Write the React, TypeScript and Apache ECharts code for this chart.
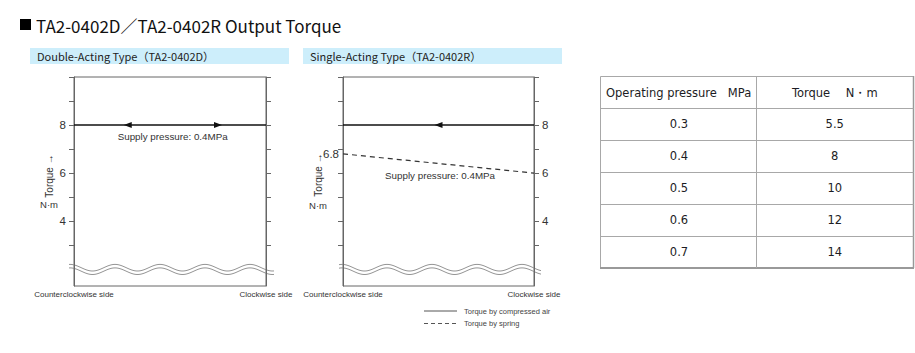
import React, { useEffect, useRef } from "react";
import * as echarts from "echarts";

// ---- data ----
const sideLabels = ["Counterclockwise side", "Clockwise side"];
const doubleAirLine = [
  [0, 8],
  [1, 8],
];
const singleAirLine = [
  [0, 8],
  [1, 8],
];
const singleSpringLine = [
  [0, 6.8],
  [1, 6],
];
const yTicks = [3, 4, 5, 6, 7, 8, 9, 10];
const yLabels = [4, 6, 8];
const springStartLabel = [6.8];
const supplyText = "Supply pressure: 0.4MPa";
const tablePressures = ["0.3", "0.4", "0.5", "0.6", "0.7"];
const tableTorques = ["5.5", "8", "10", "12", "14"];
const tableHeaders = ["Operating pressure   MPa", "Torque\u3000 N\u30FBm"];

const AXIS = "#666";
const LBL = "#333";
const SANS = "'Liberation Sans', Arial, sans-serif";

function wave(x0: number, x1: number, yc: number, crest: number, period: number, amp: number) {
  const pts: number[][] = [];
  for (let x = x0; x <= x1; x += 1) {
    pts.push([x, yc - amp * Math.cos((2 * Math.PI * (x - crest)) / period)]);
  }
  return pts;
}

function buildOption() {
  const yAxisBase = (gridIndex: number, position: "left" | "right", labels: number[] | null) => ({
    type: "value",
    gridIndex,
    position,
    min: 1.3,
    max: 10,
    axisLine: { show: true, lineStyle: { color: AXIS, width: 1 } },
    axisTick: { show: true, length: 5, inside: false, customValues: yTicks, lineStyle: { color: AXIS } },
    axisLabel: labels
      ? { show: true, customValues: labels, margin: 8, color: LBL, fontSize: 11.5, fontFamily: SANS }
      : { show: false },
    splitLine: { show: false },
  });
  const xAxisBase = (gridIndex: number) => ({
    type: "value",
    gridIndex,
    min: 0,
    max: 1,
    axisLine: { show: false },
    axisTick: { show: false },
    splitLine: { show: false },
    axisLabel: {
      show: true,
      customValues: [0, 1],
      formatter: (v: number) => (v === 0 ? sideLabels[0] : sideLabels[1]),
      margin: 4,
      color: LBL,
      fontSize: 8,
      fontFamily: SANS,
    },
  });

  const arrow = (x: number, y: number, rot: number) => ({
    coord: [x, y],
    symbol: "triangle",
    symbolSize: [6, 8],
    symbolRotate: rot,
    itemStyle: { color: "#111" },
    label: { show: false },
  });
  const textMark = (x: number, y: number) => ({
    coord: [x, y],
    symbol: "circle",
    symbolSize: 0,
    label: {
      show: true,
      position: "inside",
      formatter: supplyText,
      color: "#333",
      fontSize: 9.8,
      fontFamily: SANS,
    },
  });

  const graphic: any[] = [];
  // title
  graphic.push({ type: "rect", shape: { x: 20, y: 19, width: 11, height: 11 }, style: { fill: "#000" } });
  graphic.push({
    type: "text",
    x: 36,
    y: 25,
    style: {
      text: "TA2-0402D\uFF0FTA2-0402R Output Torque",
      font: "17px 'Noto Sans CJK JP', sans-serif",
      fill: "#111",
      align: "left",
      verticalAlign: "middle",
    },
  });
  // headers
  const headers = [
    { x: 30, w: 259, text: "Double-Acting Type\uFF08TA2-0402D\uFF09" },
    { x: 303, w: 259, text: "Single-Acting Type\uFF08TA2-0402R\uFF09" },
  ];
  headers.forEach((h) => {
    graphic.push({ type: "rect", shape: { x: h.x, y: 48, width: h.w, height: 16 }, style: { fill: "#cdeefb" } });
    graphic.push({
      type: "text",
      x: h.x + 7,
      y: 56,
      style: {
        text: h.text,
        font: "11px 'Noto Sans CJK JP', sans-serif",
        fill: "#222",
        align: "left",
        verticalAlign: "middle",
      },
    });
  });
  // axis names
  [
    { x: 49, y: 176, ny: 204 },
    { x: 318, y: 175, ny: 205 },
  ].forEach((a) => {
    graphic.push({
      type: "text",
      x: a.x,
      y: a.y,
      rotation: Math.PI / 2,
      style: { text: "Torque \u2192", font: `10px ${SANS}`, fill: "#333", align: "center", verticalAlign: "middle" },
    });
    graphic.push({
      type: "text",
      x: a.x,
      y: a.ny,
      style: { text: "N\u00B7m", font: `9.5px ${SANS}`, fill: "#333", align: "center", verticalAlign: "middle" },
    });
  });
  // waves
  [
    { x0: 69, x1: 274, crest: 115 },
    { x0: 339, x1: 541, crest: 387 },
  ].forEach((w) => {
    [0, 3.5].forEach((off) => {
      graphic.push({
        type: "polyline",
        shape: { points: wave(w.x0, w.x1, 267.7 + off, w.crest, 45, 3.3) },
        style: { stroke: "#888", lineWidth: 0.9, fill: null },
      });
    });
  });
  // legend
  graphic.push({ type: "line", shape: { x1: 424, y1: 311, x2: 457, y2: 311 }, style: { stroke: "#555", lineWidth: 1 } });
  graphic.push({
    type: "line",
    shape: { x1: 424, y1: 323.5, x2: 457, y2: 323.5 },
    style: { stroke: "#555", lineWidth: 1, lineDash: [4, 3] },
  });
  graphic.push({
    type: "text",
    x: 464,
    y: 311,
    style: { text: "Torque by compressed air", font: `7.5px ${SANS}`, fill: "#444", align: "left", verticalAlign: "middle" },
  });
  graphic.push({
    type: "text",
    x: 464,
    y: 323.5,
    style: { text: "Torque by spring", font: `7.5px ${SANS}`, fill: "#444", align: "left", verticalAlign: "middle" },
  });
  // table
  const tx0 = 600,
    tx1 = 913.5,
    tmid = 756,
    ty0 = 76,
    thead = 108,
    rowH = 32;
  const ty1 = thead + rowH * tablePressures.length;
  const TB = "#a8a8a8";
  graphic.push({
    type: "rect",
    shape: { x: tx0 + 0.5, y: ty0 + 0.5, width: tx1 - tx0 - 0.5, height: ty1 - ty0 },
    style: { fill: "#fff", stroke: TB, lineWidth: 1 },
  });
  graphic.push({ type: "line", shape: { x1: tx0, y1: ty1, x2: tx1 + 0.5, y2: ty1 }, style: { stroke: "#999", lineWidth: 2 } });
  graphic.push({ type: "line", shape: { x1: tx1, y1: ty0, x2: tx1, y2: ty1 }, style: { stroke: "#999", lineWidth: 1.5 } });
  graphic.push({ type: "line", shape: { x1: tmid + 0.5, y1: ty0, x2: tmid + 0.5, y2: ty1 }, style: { stroke: TB, lineWidth: 1 } });
  for (let i = 0; i < tablePressures.length; i++) {
    const yy = thead + rowH * i + 0.5;
    graphic.push({ type: "line", shape: { x1: tx0, y1: yy, x2: tx1, y2: yy }, style: { stroke: TB, lineWidth: 1 } });
  }
  const TF = "11.5px 'DejaVu Sans', Verdana, sans-serif";
  graphic.push({
    type: "text",
    x: tx0 + 6,
    y: (ty0 + thead) / 2 + 1,
    style: { text: tableHeaders[0], font: TF, fill: "#1c1c24", align: "left", verticalAlign: "middle" },
  });
  graphic.push({
    type: "text",
    x: (tmid + tx1) / 2,
    y: (ty0 + thead) / 2 + 1,
    style: { text: tableHeaders[1], font: TF, fill: "#1c1c24", align: "center", verticalAlign: "middle" },
  });
  tablePressures.forEach((p, i) => {
    const cy = thead + rowH * i + rowH / 2;
    graphic.push({
      type: "text",
      x: (tx0 + tmid) / 2 + 1,
      y: cy,
      style: { text: p, font: TF, fill: "#1c1c24", align: "center", verticalAlign: "middle" },
    });
    graphic.push({
      type: "text",
      x: (tmid + tx1) / 2,
      y: cy,
      style: { text: tableTorques[i], font: TF, fill: "#1c1c24", align: "center", verticalAlign: "middle" },
    });
  });

  return {
    animation: false,
    backgroundColor: "#fff",
    grid: [
      { left: 74, top: 77, width: 192, height: 209, show: true, borderColor: AXIS, borderWidth: 1 },
      { left: 343, top: 77, width: 191, height: 209, show: true, borderColor: AXIS, borderWidth: 1 },
    ],
    xAxis: [xAxisBase(0), xAxisBase(1)],
    yAxis: [
      yAxisBase(0, "left", yLabels),
      yAxisBase(0, "right", null),
      { ...yAxisBase(1, "left", springStartLabel), axisLabel: { show: true, customValues: springStartLabel, margin: 4, color: LBL, fontSize: 11.5, fontFamily: SANS } },
      yAxisBase(1, "right", yLabels),
    ],
    series: [
      {
        type: "line",
        xAxisIndex: 0,
        yAxisIndex: 0,
        data: doubleAirLine,
        symbol: "none",
        lineStyle: { color: "#111", width: 1.5 },
        markPoint: { silent: true, data: [arrow(0.28, 8, 90), arrow(0.75, 8, -90), textMark(0.514, 7.51)] },
      },
      {
        type: "line",
        xAxisIndex: 1,
        yAxisIndex: 2,
        data: singleAirLine,
        symbol: "none",
        lineStyle: { color: "#111", width: 1.5 },
        markPoint: { silent: true, data: [arrow(0.5, 8, 90)] },
      },
      {
        type: "line",
        xAxisIndex: 1,
        yAxisIndex: 2,
        data: singleSpringLine,
        symbol: "none",
        lineStyle: { color: "#333", width: 1.2, type: [5, 4] },
        markPoint: { silent: true, data: [textMark(0.508, 5.92)] },
      },
    ],
    graphic,
  };
}

export default function App() {
  const ref = useRef<HTMLDivElement>(null);
  useEffect(() => {
    document.body.style.margin = "0";
    if (!ref.current) return;
    const chart = echarts.init(ref.current, undefined, { renderer: "svg" });
    chart.setOption(buildOption() as any);
    return () => chart.dispose();
  }, []);
  return <div ref={ref} style={{ width: 915, height: 353 }} />;
}
